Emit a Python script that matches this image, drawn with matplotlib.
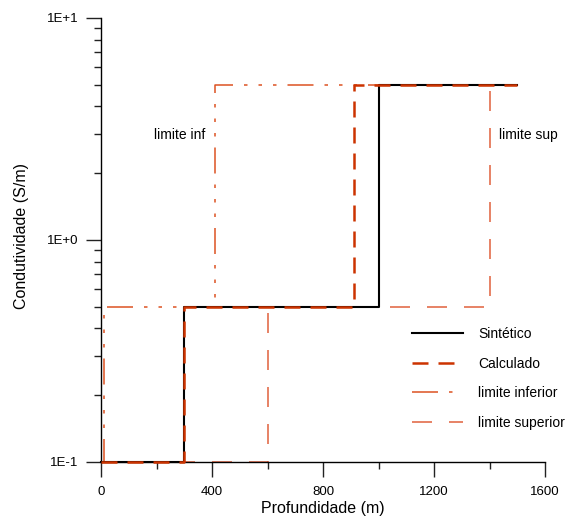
import matplotlib
matplotlib.use("Agg")
import matplotlib.pyplot as plt
from matplotlib.ticker import FixedLocator, FixedFormatter, NullFormatter

plt.rcParams['font.family'] = ['Liberation Sans', 'DejaVu Sans']
plt.rcParams['lines.scale_dashes'] = False

# Data (depth in m, conductivity in S/m)
sint_x = [0, 300, 300, 1000, 1000, 1500]
sint_y = [0.1, 0.1, 0.5, 0.5, 5, 5]

calc_x = [0, 300, 300, 910, 910, 1500]
calc_y = [0.1, 0.1, 0.5, 0.5, 5, 5]

linf_x = [0, 10, 10, 410, 410, 1500]
linf_y = [0.1, 0.1, 0.5, 0.5, 5, 5]

lsup_x = [0, 600, 600, 1400, 1400, 1500]
lsup_y = [0.1, 0.1, 0.5, 0.5, 5, 5]

xticks = [0, 400, 800, 1200, 1600]
xminor = [200, 600, 1000, 1400]
yticks = [0.1, 1, 10]
ytick_labels = ["1E-1", "1E+0", "1E+1"]

c_calc = '#cc3300'
c_inf = '#dc5222'
c_sup = '#e0603c'

W, H = 571, 520
fig = plt.figure(figsize=(W / 100, H / 100), dpi=100)
ax = fig.add_axes([101 / W, 1 - 462 / H, 444 / W, 444 / H])

px = 0.72
ax.plot(linf_x, linf_y, color=c_inf, lw=1.1, clip_on=False,
        dashes=(26 * px, 11 * px, 3.5 * px, 11 * px, 3.5 * px, 11 * px, 3.5 * px, 11 * px),
        label='limite inferior', zorder=2)
ax.plot(lsup_x, lsup_y, color=c_sup, lw=1.1, clip_on=False,
        dashes=(20 * px, 17 * px), label='limite superior', zorder=2)
ax.plot(sint_x, sint_y, color='black', lw=1.5, clip_on=False,
        label='Sintético', zorder=3)
ax.plot(calc_x, calc_y, color=c_calc, lw=1.8, clip_on=False,
        dashes=(16 * px, 10 * px), label='Calculado', zorder=4)

ax.set_yscale('log')
ax.set_xlim(0, 1600)
ax.set_ylim(0.1, 10)

ax.xaxis.set_major_locator(FixedLocator(xticks))
ax.xaxis.set_minor_locator(FixedLocator(xminor))
ax.set_xticklabels([str(v) for v in xticks])
ax.yaxis.set_major_locator(FixedLocator(yticks))
ax.yaxis.set_major_formatter(FixedFormatter(ytick_labels))
yminor = [m * d for d in (0.1, 1) for m in range(2, 10)]
ax.yaxis.set_minor_locator(FixedLocator(yminor))
ax.yaxis.set_minor_formatter(NullFormatter())

for s in ('top', 'right'):
    ax.spines[s].set_visible(False)
for s in ('left', 'bottom'):
    ax.spines[s].set_linewidth(1.0)

ax.tick_params(which='major', direction='out', length=10.8, width=1.0,
               labelsize=9.5, color='#222222')
ax.tick_params(which='minor', direction='out', length=5, width=1.0, color='#222222')
ax.tick_params(axis='y', which='major', pad=5.5)
ax.tick_params(axis='x', which='major', pad=6.5)

ax.set_xlabel('Profundidade (m)', fontsize=11.5)
ax.set_ylabel('Condutividade (S/m)', fontsize=11.5)
ax.xaxis.set_label_coords(0.5, -(509 - 462) / 444, transform=ax.transAxes)
ax.yaxis.set_label_coords(-(101 - 22) / 444, (462 - 236) / 444)
ax.xaxis.label.set_va('center')
ax.yaxis.label.set_va('center')

ytxt = 10 ** (-1 + (462 - 135) / 222)
ax.text(375, ytxt, 'limite inf', fontsize=10, ha='right', va='center')
ax.text(1434, ytxt, 'limite sup', fontsize=10, ha='left', va='center')

handles, labels = ax.get_legend_handles_labels()
order = [2, 3, 0, 1]
fig.legend([handles[i] for i in order], [labels[i] for i in order],
           loc='upper left', bbox_to_anchor=(412 / W, 1 - 327 / H),
           frameon=False, fontsize=10, borderpad=0, borderaxespad=0,
           handlelength=3.67, handletextpad=1.08, labelspacing=1.12)

fig.savefig('out.png', dpi=100)
